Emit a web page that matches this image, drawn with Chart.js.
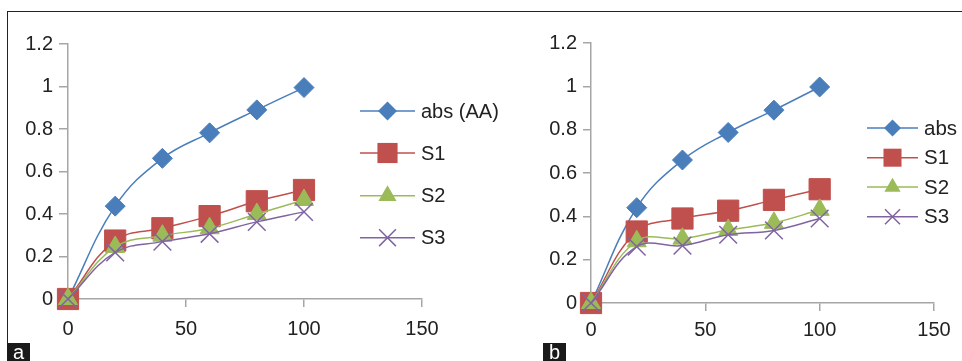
<!DOCTYPE html>
<html><head><meta charset="utf-8">
<script src="https://cdn.jsdelivr.net/npm/chart.js@4.4.1/dist/chart.umd.min.js"></script>
<style>
html,body{margin:0;padding:0;background:#fff;}
#wrap{position:relative;width:962px;height:361px;overflow:hidden;background:#fff;font-family:"Liberation Sans",Arial,sans-serif;}
#frame{position:absolute;left:7px;top:11px;width:970px;height:370px;border-top:1px solid #222;border-left:1px solid #222;}
#c1{position:absolute;left:0;top:0;}
#c2{position:absolute;left:520px;top:0;}
.tag{position:absolute;background:#1a1a1a;color:#fff;font-size:20px;line-height:18px;text-align:center;width:23px;height:24px;top:343px;}
</style></head>
<body>
<div id="wrap">
  <div id="frame"></div>
  <canvas id="c1" width="520" height="361"></canvas>
  <canvas id="c2" width="442" height="361"></canvas>
  <div class="tag" style="left:7px;">a</div>
  <div class="tag" style="left:543px;">b</div>
</div>
<script>
const xValues = [0, 20, 40, 60, 80, 100];
const seriesNamesA = ['abs (AA)', 'S1', 'S2', 'S3'];
const seriesNamesB = ['abs', 'S1', 'S2', 'S3'];
const absA = [0, 0.437, 0.662, 0.782, 0.89, 0.995];
const s1A = [0, 0.275, 0.333, 0.39, 0.46, 0.513];
const s2A = [0, 0.245, 0.298, 0.333, 0.4, 0.466];
const s3A = [0, 0.219, 0.27, 0.307, 0.363, 0.41];
const absB = [0, 0.44, 0.66, 0.787, 0.89, 0.997];
const s1B = [0, 0.33, 0.39, 0.426, 0.476, 0.525];
const s2B = [0, 0.285, 0.297, 0.337, 0.37, 0.43];
const s3B = [0, 0.26, 0.265, 0.315, 0.335, 0.39];
const xTickLabels = ['0', '50', '100', '150'];
const yTickLabels = ['0', '0.2', '0.4', '0.6', '0.8', '1', '1.2'];

const FONT = '"Liberation Sans", Arial, sans-serif';
const TEXT = '#222222';
const AXIS = '#a6a6a6';
const styles = [
  {color: '#4A7EBB', point: 'rectRot', r: 10, bw: 1, order: 3},
  {color: '#C0504D', point: 'rect', r: 15, bw: 1, order: 2},
  {color: '#9BBB59', point: 'triangle', r: 11, bw: 1, order: 1},
  {color: '#8064A2', point: 'crossRot', r: 12.5, bw: 1.5, order: 0}
];

function drawMarker(ctx, style, x, y, r, color, bw) {
  ctx.save();
  ctx.fillStyle = color; ctx.strokeStyle = color; ctx.lineWidth = bw;
  ctx.beginPath();
  if (style === 'rectRot') {
    ctx.moveTo(x, y - r); ctx.lineTo(x + r, y); ctx.lineTo(x, y + r); ctx.lineTo(x - r, y); ctx.closePath(); ctx.fill();
  } else if (style === 'rect') {
    const s = r * Math.SQRT1_2; ctx.rect(x - s, y - s, 2 * s, 2 * s); ctx.fill();
  } else if (style === 'triangle') {
    const h = r * Math.sin(Math.PI / 3);
    ctx.moveTo(x, y - r); ctx.lineTo(x + h, y + r / 2); ctx.lineTo(x - h, y + r / 2); ctx.closePath(); ctx.fill();
  } else {
    const o = r * Math.SQRT1_2;
    ctx.moveTo(x - o, y - o); ctx.lineTo(x + o, y + o); ctx.moveTo(x + o, y - o); ctx.lineTo(x - o, y + o); ctx.stroke();
  }
  ctx.restore();
}

const lineLegend = {
  id: 'lineLegend',
  afterDraw(chart, args, opts) {
    const ctx = chart.ctx;
    chart.data.datasets.forEach((ds, i) => {
      const st = styles[i];
      const y = opts.ys[i];
      ctx.save();
      ctx.strokeStyle = st.color; ctx.lineWidth = 1.5;
      ctx.beginPath(); ctx.moveTo(opts.x0, y); ctx.lineTo(opts.x1, y); ctx.stroke();
      ctx.restore();
      drawMarker(ctx, st.point, (opts.x0 + opts.x1) / 2, y, st.r * opts.scale, st.color, st.bw);
      ctx.save();
      ctx.fillStyle = TEXT; ctx.font = opts.size + 'px ' + FONT; ctx.textBaseline = 'middle'; ctx.textAlign = 'left';
      ctx.fillText(ds.label, opts.tx, y + 1);
      ctx.restore();
    });
  }
};

function makeChart(id, names, series, cfg) {
  const datasets = series.map((arr, i) => ({
    label: names[i],
    data: xValues.map((x, j) => ({x: x, y: arr[j]})),
    borderColor: styles[i].color,
    backgroundColor: styles[i].color,
    borderWidth: 1.5,
    pointStyle: styles[i].point,
    pointRadius: styles[i].r,
    pointBorderWidth: styles[i].bw,
    pointBackgroundColor: styles[i].color,
    pointBorderColor: styles[i].color,
    tension: 0.4,
    order: styles[i].order,
    clip: false
  }));
  return new Chart(document.getElementById(id), {
    type: 'line',
    data: {datasets: datasets},
    plugins: [lineLegend],
    options: {
      responsive: false,
      animation: false,
      events: [],
      layout: {padding: cfg.padding},
      plugins: {
        legend: {display: false},
        tooltip: {enabled: false},
        lineLegend: cfg.legend
      },
      scales: {
        x: {
          type: 'linear', min: 0, max: 150,
          afterFit: s => { s.height = 40; },
          grid: {drawOnChartArea: false, tickLength: cfg.xTick, color: AXIS, lineWidth: 1.5},
          border: {color: AXIS, width: 1.5},
          ticks: {stepSize: 50, padding: cfg.xPad, color: TEXT, font: {size: 20, family: FONT}, maxRotation: 0,
                  callback: (v, i) => xTickLabels[i]}
        },
        y: {
          type: 'linear', min: 0, max: 1.2,
          afterFit: s => { s.width = cfg.yWidth; },
          grid: {drawOnChartArea: false, tickLength: cfg.yTick, color: AXIS, lineWidth: 1.5},
          border: {color: AXIS, width: 1.5},
          ticks: {stepSize: 0.2, padding: 6, color: TEXT, font: {size: 20, family: FONT},
                  callback: (v, i) => yTickLabels[i]}
        }
      }
    }
  });
}

makeChart('c1', seriesNamesA, [absA, s1A, s2A, s3A], {
  padding: {left: 0, top: 44, right: 98, bottom: 22},
  yWidth: 68, yTick: 9, xTick: 8, xPad: 10,
  legend: {x0: 360, x1: 415, tx: 421, ys: [111, 153, 195.7, 237.7], scale: 0.95, size: 20}
});
makeChart('c2', seriesNamesB, [absB, s1B, s2B, s3B], {
  padding: {left: 0, top: 43, right: 28, bottom: 18},
  yWidth: 71, yTick: 8, xTick: 8, xPad: 7,
  legend: {x0: 347, x1: 398, tx: 404, ys: [128, 157.7, 187, 216.7], scale: 0.85, size: 20.5}
});
</script>
</body></html>
